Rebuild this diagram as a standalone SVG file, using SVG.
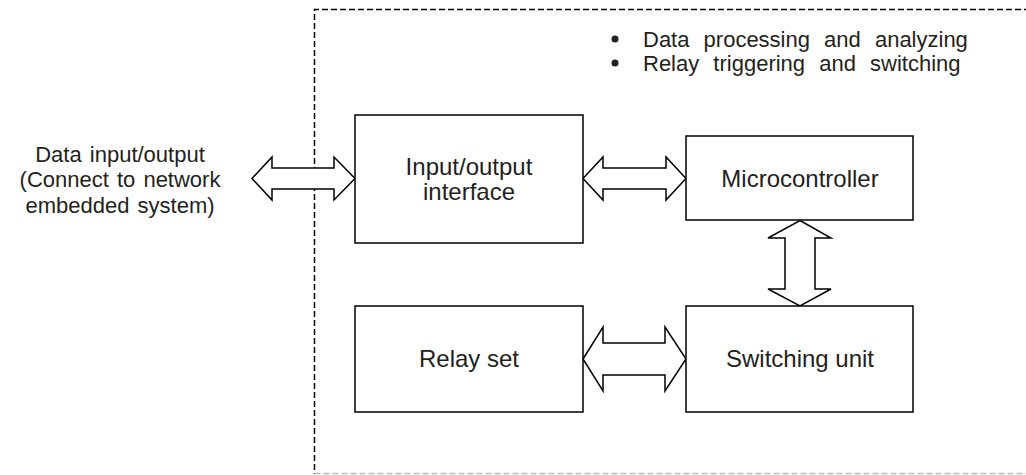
<svg xmlns="http://www.w3.org/2000/svg" width="1026" height="475" viewBox="0 0 1026 475">
<style>
.box{fill:#fff;stroke:#000;stroke-width:1.5}
.arr{fill:#fff;stroke:#000;stroke-width:1.5;stroke-linejoin:miter}
.t{font-family:"Liberation Sans",Arial,sans-serif;fill:#231f20;text-anchor:middle}
.big{font-size:24px}
.mid{font-size:22px;word-spacing:2px}
.bul{font-size:22px;word-spacing:8px;text-anchor:start}
</style>
<rect width="1026" height="475" fill="#fff"/>
<g id="boundary">
<path d="M1030 9.5 H314.5 V474" fill="none" stroke="#000" stroke-width="1.5" stroke-dasharray="6,3"/>
<path d="M314.5 473.5 H1030" fill="none" stroke="#bbb" stroke-width="1.5" stroke-dasharray="6,3"/>
</g>
<g id="notes">
<circle cx="615" cy="39" r="3.5" fill="#231f20"/>
<circle cx="615" cy="63" r="3.5" fill="#231f20"/>
<text class="t bul" x="643" y="47">Data processing and analyzing</text>
<text class="t bul" x="643" y="71">Relay triggering and switching</text>
</g>
<g id="external-label">
<text class="t mid" x="120" y="162">Data input/output</text>
<text class="t mid" x="120" y="187">(Connect to network</text>
<text class="t mid" x="120" y="213">embedded system)</text>
</g>
<g id="connectors">
<path class="arr" d="M252 178.5 L272 157 V168 H334 V157 L355 178.5 L334 200 V189 H272 V200 Z"/>
<path class="arr" d="M583 178.5 L603 157 V168 H666 V157 L686 178.5 L666 200 V189 H603 V200 Z"/>
<path class="arr" d="M583 359 L603 327 V343 H665 V327 L686 359 L665 391 V375 H603 V391 Z"/>
<path class="arr" d="M800 220.5 L831 238 H815 V289 H831 L800 306 L768 289 H785 V238 H768 Z"/>
</g>
<g id="io-interface">
<rect class="box" x="355" y="115" width="228" height="128"/>
<text class="t big" x="469" y="175">Input/output</text>
<text class="t big" x="469" y="200">interface</text>
</g>
<g id="microcontroller">
<rect class="box" x="686" y="136" width="227" height="84"/>
<text class="t big" x="800" y="187">Microcontroller</text>
</g>
<g id="relay-set">
<rect class="box" x="355" y="306" width="228" height="106"/>
<text class="t big" x="469" y="367">Relay set</text>
</g>
<g id="switching-unit">
<rect class="box" x="686" y="306" width="227" height="106"/>
<text class="t big" x="800" y="367">Switching unit</text>
</g>
</svg>
